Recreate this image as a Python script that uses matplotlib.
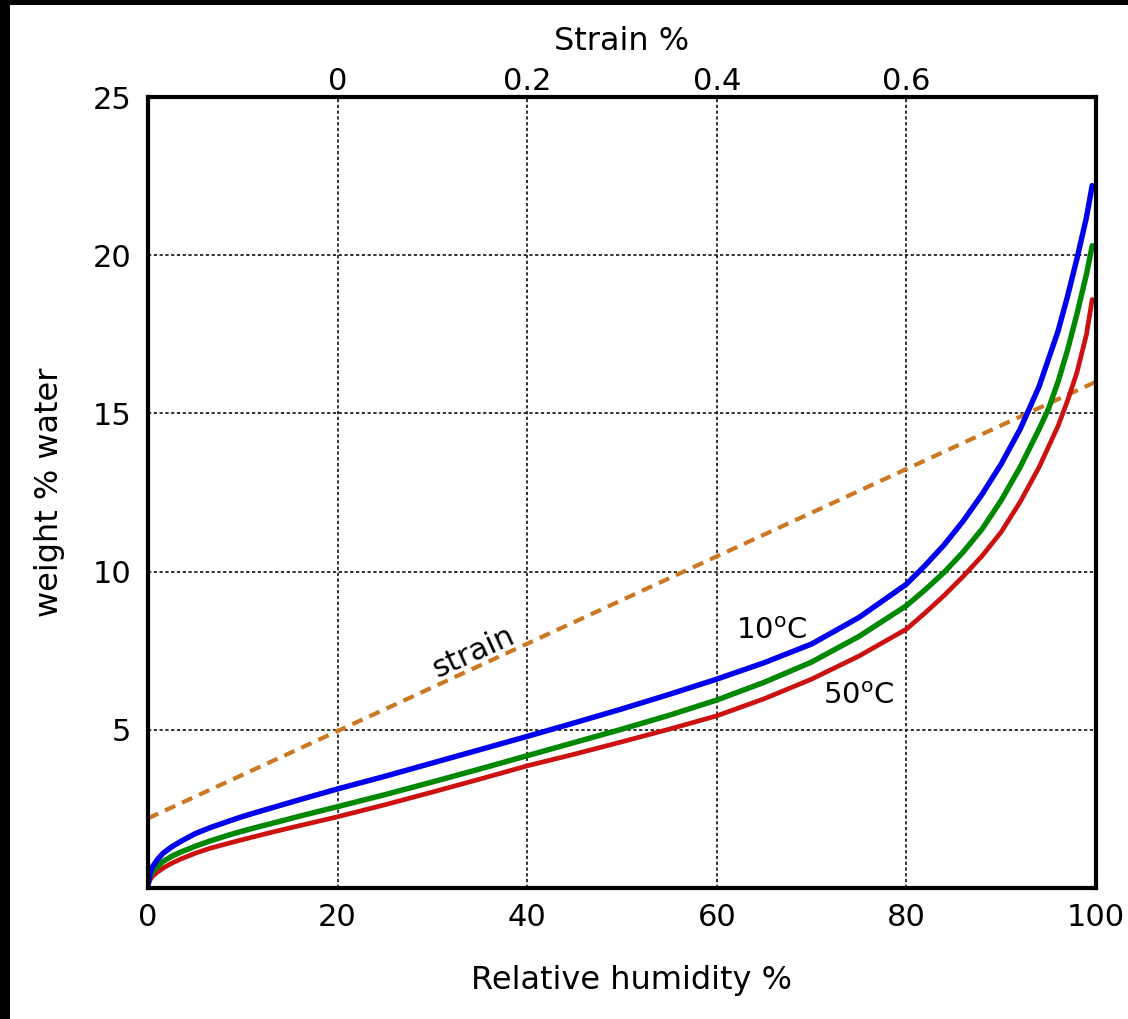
"""Sorption isotherms (weight % water vs relative humidity) with strain line."""

import matplotlib

matplotlib.use("Agg")
import matplotlib.pyplot as plt
from matplotlib.patches import Rectangle

# 10 degC isotherm (blue)
rh_10c = [0, 0.2, 0.5, 1, 1.6, 2.5, 3.5, 5, 6.5, 8.6, 10, 12, 13.6, 16, 20, 25, 30, 35, 40, 45, 50, 55,
          60, 65, 70, 75, 80, 82, 84, 86, 88, 90, 92, 94, 96, 97, 98, 99, 99.6]
w_10c = [0.1, 0.45, 0.68, 0.9, 1.1, 1.3, 1.48, 1.72, 1.9, 2.12, 2.26, 2.44, 2.58, 2.79, 3.13, 3.53, 3.95,
         4.37, 4.79, 5.22, 5.66, 6.12, 6.6, 7.12, 7.71, 8.55, 9.6, 10.2, 10.85, 11.6, 12.45, 13.4, 14.5,
         15.85, 17.6, 18.7, 19.9, 21.2, 22.2]

# intermediate isotherm (green)
rh_mid = [0, 0.2, 0.5, 1, 1.6, 2.5, 3.5, 5, 6.5, 8.6, 10, 12, 13.6, 16, 20, 25, 30, 35, 40, 45, 50, 55,
          60, 65, 70, 75, 80, 82, 84, 86, 88, 90, 92, 94, 95, 96, 97, 98, 99, 99.6]
w_mid = [0.1, 0.35, 0.52, 0.68, 0.84, 1.0, 1.14, 1.32, 1.48, 1.68, 1.8, 1.96, 2.08, 2.27, 2.57, 2.95,
         3.35, 3.76, 4.18, 4.6, 5.02, 5.46, 5.94, 6.5, 7.14, 7.95, 8.92, 9.43, 9.98, 10.62, 11.35, 12.25,
         13.3, 14.5, 15.15, 16.0, 17.0, 18.15, 19.4, 20.3]

# 50 degC isotherm (red)
rh_50c = [0, 0.2, 0.5, 1, 1.6, 2.5, 3.5, 5, 6.5, 8.6, 10, 12, 13.6, 16, 20, 25, 30, 35, 40, 45, 50, 55,
          60, 65, 70, 75, 80, 82, 84, 86, 88, 90, 92, 94, 95, 96, 97, 98, 99, 99.6]
w_50c = [0.1, 0.25, 0.38, 0.5, 0.63, 0.78, 0.92, 1.1, 1.25, 1.42, 1.53, 1.68, 1.8, 1.97, 2.25, 2.63,
         3.03, 3.44, 3.86, 4.23, 4.62, 5.02, 5.44, 5.98, 6.6, 7.33, 8.18, 8.7, 9.25, 9.85, 10.5, 11.25,
         12.2, 13.3, 13.95, 14.6, 15.4, 16.3, 17.5, 18.6]

# strain line
rh_strain = [0, 100]
w_strain = [2.2, 16.0]

# top axis: strain % at relative humidity positions
strain_tick_rh = [20, 40, 60, 80]
strain_tick_labels = ["0", "0.2", "0.4", "0.6"]

x_ticks = [0, 20, 40, 60, 80, 100]
y_ticks = [5, 10, 15, 20, 25]

plt.rcParams.update({"font.family": "DejaVu Sans", "font.size": 23})

fig = plt.figure(figsize=(11.28, 10.19), dpi=100)
ax = fig.add_axes([0.1312, 0.1286, 0.8404, 0.7762])

ax.plot(rh_strain, w_strain, color="#cc7722", linewidth=3.0, dashes=(2.7, 1.8))
ax.plot(rh_50c, w_50c, color="#cc1111", linewidth=3.4, solid_capstyle="round", solid_joinstyle="round")
ax.plot(rh_mid, w_mid, color="#008800", linewidth=3.9, solid_capstyle="round", solid_joinstyle="round")
ax.plot(rh_10c, w_10c, color="#0000ee", linewidth=3.9, solid_capstyle="round", solid_joinstyle="round")

ax.set_xlim(0, 100)
ax.set_ylim(0, 25)
ax.set_xticks(x_ticks)
ax.set_yticks(y_ticks)
ax.tick_params(axis="x", length=0, pad=11, labelsize=22)
ax.tick_params(axis="y", length=0, pad=12, labelsize=22)
ax.grid(True, color="#222222", linestyle=(0, (1.8, 1.4)), linewidth=1.3)
for spine in ax.spines.values():
    spine.set_linewidth(3)

ax.set_xlabel("Relative humidity %")
ax.xaxis.set_label_coords(0.51, -0.097)
ax.set_ylabel("weight % water", labelpad=20)

top = ax.twiny()
top.set_xlim(ax.get_xlim())
top.set_xticks(strain_tick_rh)
top.set_xticklabels(strain_tick_labels)
top.tick_params(length=0, pad=1, labelsize=22)
top.set_xlabel("Strain %", labelpad=12)
for spine in top.spines.values():
    spine.set_visible(False)

ax.text(62, 7.87, r"10$^{\mathregular{o}}$C", ha="left", va="baseline", fontsize=21)
ax.text(71.2, 5.8, r"50$^{\mathregular{o}}$C", ha="left", va="baseline", fontsize=21)
ax.text(34.3, 7.46, "strain", rotation=24.5, ha="center", va="center", rotation_mode="anchor",
        fontsize=22)

# dark strips along the top and left edges of the reference picture
fig.patches.append(Rectangle((0, 1 - 5 / 1019), 1, 5 / 1019, transform=fig.transFigure,
                             facecolor="black", edgecolor="none"))
fig.patches.append(Rectangle((0, 0), 10 / 1128, 1, transform=fig.transFigure,
                             facecolor="black", edgecolor="none"))

fig.savefig("out.png", dpi=100)
